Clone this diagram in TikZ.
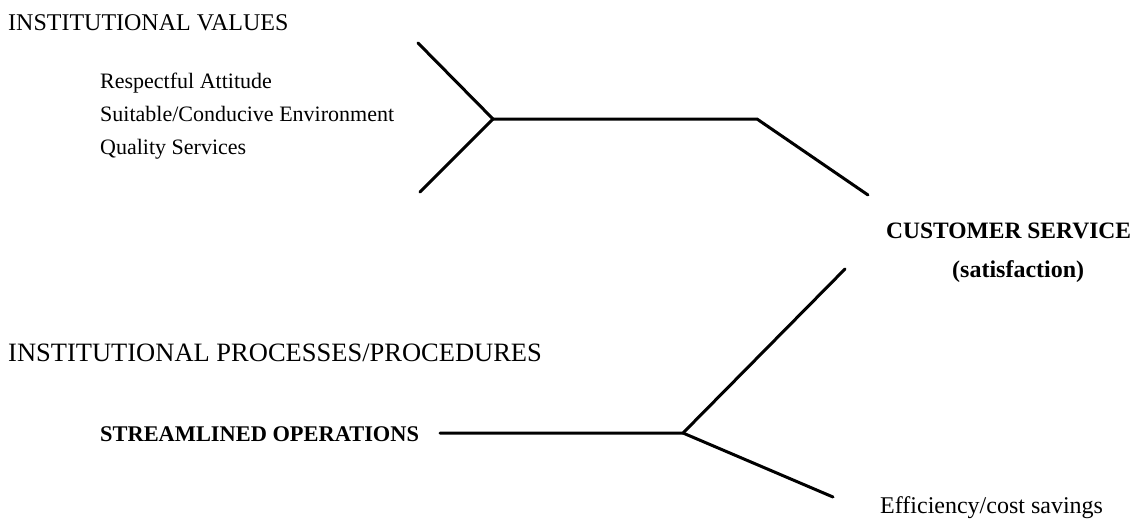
\documentclass[tikz,border=0pt]{standalone}
\usepackage{fontspec}
\setmainfont{Liberation Serif}
\begin{document}
\begin{tikzpicture}[x=1pt,y=-1pt,
  ln/.style={line width=3pt, line cap=round, line join=round},
  title/.style={anchor=base west, inner sep=0pt, font=\fontsize{24}{28}\selectfont},
  item/.style={anchor=base west, inner sep=0pt, font=\fontsize{22}{26}\selectfont},
  bitem/.style={anchor=base west, inner sep=0pt, font=\fontsize{23.5}{27}\selectfont\bfseries}]
\useasboundingbox (0,0) rectangle (1137,520);
% texts
\node[title] (iv) at (8,30) {INSTITUTIONAL VALUES};
\node[item] (ra) at (100,88) {Respectful Attitude};
\node[item] (sc) at (100,121) {Suitable/Conducive Environment};
\node[item] (qs) at (100,154) {Quality Services};
\node[bitem] (cs) at (886,238) {CUSTOMER SERVICE};
\node[bitem, font=\fontsize{24}{28}\selectfont\bfseries] (sat) at (952,277) {(satisfaction)};
\node[title, font=\fontsize{26.5}{30}\selectfont] (ip) at (8,361) {INSTITUTIONAL PROCESSES/PROCEDURES};
\node[bitem, font=\fontsize{22.4}{26}\selectfont\bfseries] (so) at (100,441) {STREAMLINED OPERATIONS};
\node[item, font=\fontsize{24}{28}\selectfont] (ef) at (880,513) {Efficiency/cost savings};
% top branch
\coordinate (t1) at (418,43);
\coordinate (t2) at (420,192);
\coordinate (tj) at (493,119);
\coordinate (tk) at (757,119);
\coordinate (te) at (868,195);
\draw[ln] (t1) -- (tj) -- (t2);
\draw[ln] (tj) -- (tk) -- (te);
% bottom branch
\coordinate (b0) at (440,433);
\coordinate (bj) at (683,433);
\coordinate (bu) at (845,269);
\coordinate (bl) at (833,497);
\draw[ln] (b0) -- (bj) -- (bu);
\draw[ln] (bj) -- (bl);
\end{tikzpicture}
\end{document}
